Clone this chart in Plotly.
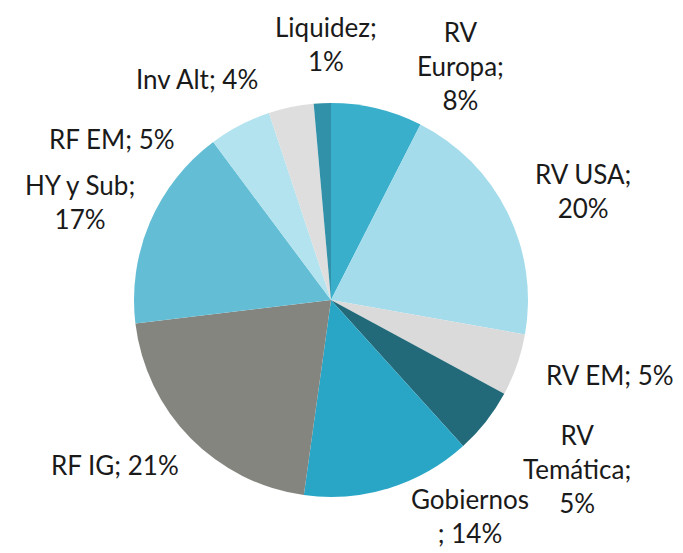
import plotly.graph_objects as go

categories = ["RV Europa", "RV USA", "RV EM", "RV Temática", "Gobiernos",
              "RF IG", "HY y Sub", "RF EM", "Inv Alt", "Liquidez"]
values = [7.5, 20.3, 5.1, 5.4, 13.9, 20.9, 16.7, 5.1, 3.7, 1.4]
pct_labels = ["8%", "20%", "5%", "5%", "14%", "21%", "17%", "5%", "4%", "1%"]
label_text = ["RV<br>Europa;<br>8%", "RV USA;<br>20%", "RV EM; 5%",
              "RV<br>Temática;<br>5%", "Gobiernos<br>; 14%", "RF IG; 21%",
              "HY y Sub;<br>17%", "RF EM; 5%", "Inv Alt; 4%", "Liquidez;<br>1%"]
colors = ["#3AAFCB", "#A4DCEB", "#DADADA", "#226A79", "#29A6C6",
          "#858580", "#63BED5", "#B2E3EF", "#DEDEDE", "#3191A8"]

# label anchor positions (pixels from top-left)
label_pos = [(452, 58), (575, 183), (602, 367), (569, 461), (462, 508),
             (107, 457), (72, 194), (104, 131), (189, 71), (318, 36)]

W, H = 683, 553
cx, cy, r = 323, 292, 197

fig = go.Figure(go.Pie(
    labels=categories, values=values, sort=False, direction="clockwise",
    rotation=0, textinfo="none", hoverinfo="label+percent",
    marker=dict(colors=colors, line=dict(width=0)),
    domain=dict(x=[(cx - r) / W, (cx + r) / W],
                y=[(H - cy - r) / H, (H - cy + r) / H]),
    showlegend=False,
))

for txt, (x, y) in zip(label_text, label_pos):
    fig.add_annotation(x=x / W, y=1 - y / H, xref="paper", yref="paper",
                       text=txt, showarrow=False, xanchor="center", yanchor="middle",
                       font=dict(family="Lato", size=26, color="#1a1a1a"))

fig.update_layout(width=W, height=H, margin=dict(l=0, r=0, t=0, b=0),
                  paper_bgcolor="white", plot_bgcolor="white")
fig.write_html("out.html")
